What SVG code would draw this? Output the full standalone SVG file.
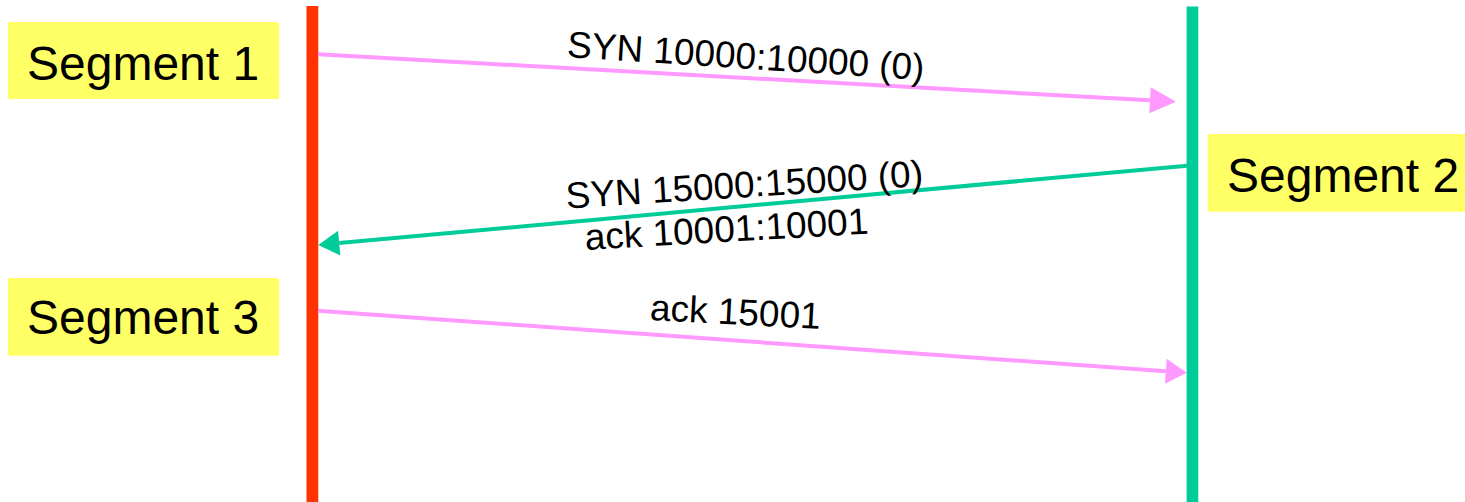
<svg xmlns="http://www.w3.org/2000/svg" width="1465" height="502" viewBox="0 0 1465 502">
  <style>
    .lbl { fill: #FFFF66; }
    .seg { font-family: "Liberation Sans", Arial, sans-serif; font-size: 48px; fill: #000; }
    .msg { font-family: "Liberation Sans", Arial, sans-serif; font-size: 37px; fill: #000; }
    .pink { stroke: #FF99FF; stroke-width: 4; fill: none; }
    .green { stroke: #00CC99; stroke-width: 4; fill: none; }
  </style>
  <defs>
    <marker id="pinkBig" markerUnits="userSpaceOnUse" markerWidth="26" markerHeight="26" viewBox="0 0 26 26" refX="0" refY="13" orient="auto" overflow="visible">
      <path d="M0,0 L26,13 L0,26 Z" fill="#FF99FF"/>
    </marker>
    <marker id="pinkHead" markerUnits="userSpaceOnUse" markerWidth="21" markerHeight="25" viewBox="0 0 21 25" refX="0" refY="12.5" orient="auto" overflow="visible">
      <path d="M0,0 L21,12.5 L0,25 Z" fill="#FF99FF"/>
    </marker>
    <marker id="greenHead" markerUnits="userSpaceOnUse" markerWidth="21" markerHeight="25" viewBox="0 0 21 25" refX="0" refY="12.5" orient="auto" overflow="visible">
      <path d="M0,0 L21,12.5 L0,25 Z" fill="#00CC99"/>
    </marker>
  </defs>
  <rect width="1465" height="502" fill="#FFFFFF"/>

  <g id="hostA">
    <rect x="306.5" y="6" width="11.8" height="496" fill="#FF3300"/>
  </g>
  <g id="hostB">
    <rect x="1186.6" y="6.5" width="11.7" height="496" fill="#00CC99"/>
  </g>

  <g id="connectors">
    <line class="pink" x1="318" y1="54.3" x2="1150" y2="100.3" marker-end="url(#pinkBig)"/>
    <line class="green" x1="1187" y1="165.7" x2="339.2" y2="243.1" marker-end="url(#greenHead)"/>
    <line class="pink" x1="318" y1="310.7" x2="1165.8" y2="371.2" marker-end="url(#pinkHead)"/>
  </g>

  <g id="msg1">
    <text class="msg" transform="translate(566.5,57) rotate(3.7)">SYN 10000:10000 (0)</text>
  </g>
  <g id="msg2">
    <text class="msg" transform="translate(566.5,208.5) rotate(-3.6)">SYN 15000:15000 (0)</text>
    <text class="msg" transform="translate(585.5,250) rotate(-3.3)">ack 10001:10001</text>
  </g>
  <g id="msg3">
    <text class="msg" transform="translate(649.5,320) rotate(3)">ack 15001</text>
  </g>

  <g id="segment1">
    <rect class="lbl" x="8" y="22" width="271" height="77"/>
    <text class="seg" x="27" y="80">Segment 1</text>
  </g>
  <g id="segment2">
    <rect class="lbl" x="1207.7" y="134" width="257.3" height="77.7"/>
    <text class="seg" x="1227" y="191.7">Segment 2</text>
  </g>
  <g id="segment3">
    <rect class="lbl" x="8" y="278" width="271" height="77.7"/>
    <text class="seg" x="27" y="334.3">Segment 3</text>
  </g>
</svg>
